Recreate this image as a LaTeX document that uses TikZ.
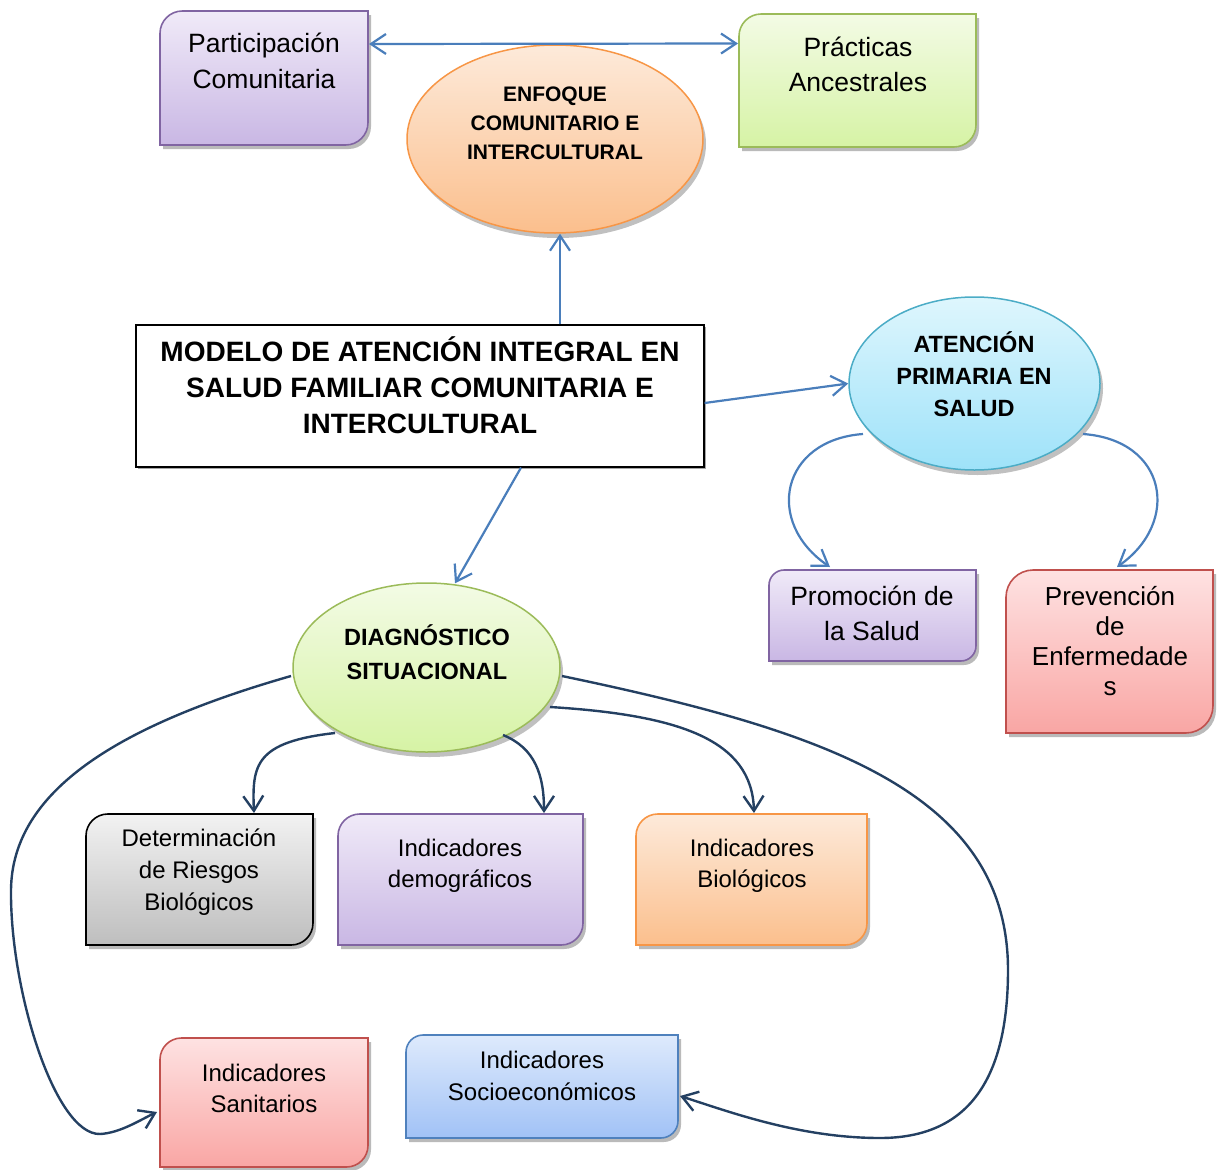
\documentclass[tikz,border=0pt]{standalone}
\usepackage{fontspec}
\setmainfont{Liberation Sans}
\usetikzlibrary{arrows.meta,shapes.geometric,shadows,calc}

% fill gradients (top / bottom) and borders
\definecolor{purT}{RGB}{240,234,248}\definecolor{purB}{RGB}{201,183,228}\definecolor{purD}{RGB}{128,100,162}
\definecolor{grnT}{RGB}{243,251,229}\definecolor{grnB}{RGB}{214,243,165}\definecolor{grnD}{RGB}{155,187,89}
\definecolor{orT}{RGB}{253,234,218}\definecolor{orB}{RGB}{251,191,141}\definecolor{orD}{RGB}{247,150,70}
\definecolor{cyT}{RGB}{222,246,253}\definecolor{cyB}{RGB}{158,226,249}\definecolor{cyD}{RGB}{75,172,198}
\definecolor{redT}{RGB}{254,226,226}\definecolor{redB}{RGB}{249,166,164}\definecolor{redD}{RGB}{192,80,77}
\definecolor{gryT}{RGB}{242,242,242}\definecolor{gryB}{RGB}{190,190,190}\definecolor{gryD}{RGB}{0,0,0}
\definecolor{bluT}{RGB}{222,234,252}\definecolor{bluB}{RGB}{161,194,246}\definecolor{bluD}{RGB}{79,129,189}
\definecolor{linkblue}{RGB}{74,126,187}
\definecolor{linknavy}{RGB}{36,64,98}

\tikzset{
  tip/.tip={Straight Barb[length=15pt,width=20pt]},
  bluelink/.style={draw=linkblue, line width=2.2pt, -tip},
  navylink/.style={draw=linknavy, line width=2.4pt, -tip},
  oval/.style={ellipse, inner sep=0, line width=1.5pt,
    drop shadow={shadow xshift=3pt, shadow yshift=-5pt, fill=black!45, opacity=0.55}},
  anchorbox/.style={inner sep=0, outer sep=0, draw=none},
}

% box with rounded top-left and bottom-right corners:
% name, x1, y1, x2, y2, top colour, bottom colour, border colour
\newcommand\dbox[8]{%
  \pgfmathsetmacro\bw{#4-#2}\pgfmathsetmacro\bh{#5-#3}%
  \pgfmathsetmacro\br{min(\bw,\bh)/6}\pgfmathsetmacro\bc{0.448*\br}%
  \def\boxpath{(#2,#3+\br) .. controls (#2,#3+\bc) and (#2+\bc,#3) .. (#2+\br,#3)
    -- (#4,#3) -- (#4,#5-\br) .. controls (#4,#5-\bc) and (#4-\bc,#5) .. (#4-\br,#5)
    -- (#2,#5) -- cycle}%
  \node[anchorbox, minimum width=\bw pt, minimum height=\bh pt] (#1) at ({(#2+#4)/2},{(#3+#5)/2}) {};
  \fill[black!45, opacity=0.6, shift={(3,4)}] \boxpath;
  \shade[top color=#6, bottom color=#7] \boxpath;
  \draw[#8, line width=1.6pt] \boxpath;
}

% text block: name, x, first baseline, size, line skip, text, series
\newcommand\lbl[7]{%
  \node[font={#7\fontsize{#4}{#5}\selectfont}, align=center, anchor=north, inner sep=0]
    (#1) at (#2,{#3-0.7*#5}) {#6};}

\begin{document}
\begin{tikzpicture}[x=1pt,y=-1pt]
\useasboundingbox (0,0) rectangle (1219,1170);

% boxes
\dbox{part}{160}{11}{368}{145}{purT}{purB}{purD}
\dbox{prac}{739}{14}{976}{147}{grnT}{grnB}{grnD}
\dbox{prom}{769}{570}{976}{661}{purT}{purB}{purD}
\dbox{prev}{1006}{570}{1213}{733}{redT}{redB}{redD}
\dbox{det}{86}{814}{313}{945}{gryT}{gryB}{gryD}
\dbox{dem}{338}{814}{583}{945}{purT}{purB}{purD}
\dbox{bio}{636}{814}{867}{945}{orT}{orB}{orD}
\dbox{san}{160}{1038}{368}{1167}{redT}{redB}{redD}
\dbox{soc}{406}{1035}{678}{1138}{bluT}{bluB}{bluD}

% central box
\fill[black!35, shift={(2,2)}] (136,325) rectangle (704,467);
\node[draw=black, line width=1.2pt, fill=white, minimum width=568pt, minimum height=142pt, inner sep=0] (main) at (420,396) {};

% ovals
\node[oval, draw=orD, top color=orT, bottom color=orB, minimum width=296pt, minimum height=188pt] (enf) at (555,139) {};
\node[oval, draw=cyD, top color=cyT, bottom color=cyB, minimum width=251pt, minimum height=173pt] (aps) at (974.5,383.5) {};
\node[oval, draw=grnD, top color=grnT, bottom color=grnB, minimum width=267pt, minimum height=169pt] (diag) at (426.5,667.5) {};

% connectors
\draw[bluelink, tip-tip] ($(part.east)+(1,-34)$) -- ($(prac.west)+(-1,-37)$);
\draw[bluelink] ($(main.north)+(140,0)$) -- ($(enf.south)+(5,0)$);
\draw[bluelink] ($(main.east)+(0,7)$) -- (aps.west);
\draw[bluelink] ($(main.south)+(101,0)$) -- ($(diag.north)+(28.5,1)$);
\draw[bluelink] ($(aps)+(-111.5,50.5)$) .. controls +(-82,6) and +(-66,-45) .. ($(prom.north)+(-42.5,-3)$);
\draw[bluelink] ($(aps)+(108.5,50.5)$) .. controls +(84,6) and +(64,-45) .. ($(prev.north)+(7.5,-3)$);

\draw[navylink] ($(diag)+(-91.5,65.5)$) .. controls +(-80,9) and +(-2,-48) .. ($(det.north)+(54.5,-1)$);
\draw[navylink] ($(diag)+(76.5,67.5)$) .. controls +(32,13) and +(0,-38) .. ($(dem.north)+(83.5,-1)$);
\draw[navylink] ($(diag)+(123.5,39.5)$) .. controls +(130,8) and +(-2,-73) .. ($(bio.north)+(2.5,-1)$);

\coordinate (w1) at (1008,970);
\coordinate (w2) at (880,1138);
\draw[navylink] ($(diag)+(135.5,8.5)$) .. controls +(258,54) and +(0,-180) .. (w1)
  .. controls +(0,120) and +(80,0) .. (w2)
  .. controls +(-80,0) and +(50,16) .. ($(soc.east)+(2,9.5)$);

\coordinate (w3) at (11,890);
\coordinate (w4) at (100,1134);
\draw[navylink] ($(diag)+(-135.5,8.5)$) .. controls +(-171,49) and +(1,-100) .. (w3)
  .. controls +(-1,100) and +(-45,1) .. (w4)
  .. controls +(20,-1) and +(-17,8) .. ($(san.west)+(-3,9.5)$);

% texts
\lbl{part-t}{264}{52}{26.5}{36}{\strut Participación\\\strut Comunitaria}{}
\lbl{prac-t}{858}{56}{26.5}{35}{\strut Prácticas\\\strut Ancestrales}{}
\lbl{enf-t}{555}{101}{21}{29}{\strut ENFOQUE\\\strut COMUNITARIO E\\\strut INTERCULTURAL}{\bfseries}
\lbl{main-t}{420}{361}{28}{36}{\strut MODELO DE ATENCIÓN INTEGRAL EN\\\strut SALUD FAMILIAR COMUNITARIA E\\\strut INTERCULTURAL}{\bfseries}
\lbl{aps-t}{974}{352}{23.5}{32}{\strut ATENCIÓN\\\strut PRIMARIA EN\\\strut SALUD}{\bfseries}
\lbl{prom-t}{872}{605}{26.5}{35}{\strut Promoción de\\\strut la Salud}{}
\lbl{prev-t}{1110}{605}{26}{30}{\strut Prevención\\\strut de\\\strut Enfermedade\\\strut s}{}
\lbl{diag-t}{427}{645}{23.5}{34}{\strut DIAGNÓSTICO\\\strut SITUACIONAL}{\bfseries}
\lbl{det-t}{199}{846}{24}{32}{\strut Determinación\\\strut de Riesgos\\\strut Biológicos}{}
\lbl{dem-t}{460}{856}{24}{31.5}{\strut Indicadores\\\strut demográficos}{}
\lbl{bio-t}{752}{856}{24}{31.5}{\strut Indicadores\\\strut Biológicos}{}
\lbl{san-t}{264}{1081}{24}{31}{\strut Indicadores\\\strut Sanitarios}{}
\lbl{soc-t}{542}{1068}{24}{32}{\strut Indicadores\\\strut Socioeconómicos}{}
\end{tikzpicture}
\end{document}
